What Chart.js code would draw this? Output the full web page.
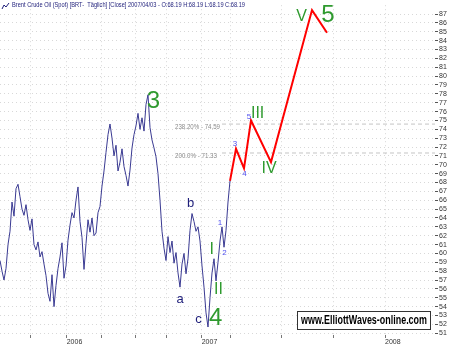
<!DOCTYPE html>
<html>
<head>
<meta charset="utf-8">
<script src="https://cdn.jsdelivr.net/npm/chart.js@4/dist/chart.umd.min.js"></script>
<style>
  html, body { margin: 0; padding: 0; background: #fff; }
</style>
</head>
<body>
<canvas id="chart" width="452" height="350"></canvas>
<script>
// Brent daily closes (one value per step of the x index)
const closes = [
  59.2, 58.0, 57.0, 58.3, 61.0, 62.5, 65.8, 64.2, 67.3, 67.8,
  66.4, 65.0, 64.3, 65.5, 63.8, 62.6, 63.9, 61.0, 60.4, 61.3,
  59.6, 60.2, 58.8, 57.5, 55.5, 54.6, 57.6, 54.0, 56.4, 58.3,
  59.6, 61.2, 57.2, 58.6, 61.5, 63.2, 64.6, 64.0, 66.0, 67.5,
  63.6, 61.8, 58.2, 61.1, 63.8, 62.4, 64.0, 62.0, 62.3, 64.6,
  65.3, 67.6, 69.3, 71.4, 73.4, 74.6, 73.0, 71.0, 72.2, 69.3,
  70.3, 71.8, 69.8, 68.8, 67.6, 69.4, 71.9, 73.4, 74.4, 75.8,
  74.0, 75.3, 73.8, 76.8, 77.9, 74.2, 72.8, 71.9, 70.9, 69.0,
  66.0, 62.5, 60.6, 59.2, 61.9, 60.1, 61.4, 58.9, 60.1, 57.8,
  56.2, 58.8, 60.0, 57.7, 59.4, 62.6, 64.5, 63.6, 62.5, 63.0,
  61.4, 58.6, 56.2, 53.3, 51.7, 55.0, 57.8, 59.4, 56.9, 59.0,
  61.4, 63.0, 60.7, 62.6, 65.8, 68.19
];

// projected wave path
const projX = [115, 118, 122, 125.5, 135.5, 156, 163.5];
const projY = [68.19, 71.8, 69.6, 75.0, 70.3, 87.45, 84.9];

// fibonacci extension levels
const fibLevels = [74.59, 71.33];
const fibNames = ["238.20%", "200.0%"];
const fibFrom = 111;

// axis ticks
const xTicks = [15.35, 33.35, 50.85, 67.5, 83.35, 100.85, 115, 140.85, 166.65, 192.5];
const yearTicks = [33.35, 100.85, 192.5];
const yearNames = ["2006", "2007", "2008"];
const yTicks = [];
for (let v = 51; v <= 87; v++) yTicks.push(v);

// wave count labels
const waveText = ["3", "4", "5", "I", "II", "III", "IV", "V", "a", "b", "c", "1", "2", "3", "4", "5"];
const waveX = [76.7, 107.8, 164, 105.8, 109.2, 128.8, 134.5, 150.8, 90, 95.3, 99.2, 110, 112.2, 117.5, 122.2, 124.5];
const waveY = [77.1, 52.7, 86.8, 60.4, 55.9, 75.8, 69.6, 86.7, 54.8, 65.6, 52.6, 63.5, 60.1, 72.4, 69.0, 75.4];
const waveKind = ["big", "big", "big", "mid", "mid", "mid", "mid", "mid", "abc", "abc", "abc", "sub", "sub", "sub", "sub", "sub"];

const title = "Brent Crude Oil (Spot) [BRT-  T\u00e4glich] [Close] 2007/04/03 - O:68.19 H:68.19 L:68.19 C:68.19";

const kindStyle = {
  big: { font: "24px 'Liberation Sans'", color: "#2f9a2f" },
  mid: { font: "16px 'Liberation Sans'", color: "#2f9a2f" },
  abc: { font: "13px 'Liberation Sans'", color: "#1e1e7a" },
  sub: { font: "8px 'Liberation Sans'", color: "#5050f0" }
};

// draw text squeezed to a given width
function fitText(ctx, text, x, y, w) {
  const m = ctx.measureText(text).width;
  ctx.save();
  ctx.translate(x, y);
  ctx.scale(w / m, 1);
  ctx.fillText(text, 0, 0);
  ctx.restore();
}

const overlay = {
  id: "overlay",
  afterDatasetsDraw(chart) {
    const ctx = chart.ctx;
    const xs = chart.scales.x, ys = chart.scales.y;
    ctx.save();

    // fib level captions
    ctx.font = "7px 'Liberation Sans'";
    ctx.fillStyle = "#8a8a8a";
    ctx.textBaseline = "middle";
    ctx.textAlign = "left";
    fibLevels.forEach((lv, i) => {
      const txt = fibNames[i] + " - " + lv.toFixed(2);
      fitText(ctx, txt, xs.getPixelForValue(fibFrom) - 47, ys.getPixelForValue(lv) + 3, i === 0 ? 45 : 42);
    });

    // wave labels
    ctx.textAlign = "center";
    waveText.forEach((t, i) => {
      const st = kindStyle[waveKind[i]];
      ctx.font = st.font;
      ctx.fillStyle = st.color;
      ctx.fillText(t, xs.getPixelForValue(waveX[i]), ys.getPixelForValue(waveY[i]));
    });

    // watermark box
    ctx.fillStyle = "#fff";
    ctx.fillRect(297, 311, 133, 18);
    ctx.strokeStyle = "#333";
    ctx.lineWidth = 1;
    ctx.strokeRect(297.5, 311.5, 133, 18);
    ctx.fillStyle = "#000";
    ctx.font = "bold 12px 'Liberation Sans'";
    ctx.textAlign = "left";
    fitText(ctx, "www.ElliottWaves-online.com", 301, 321, 126);

    // title + small icon
    ctx.strokeStyle = "#1e1e7a";
    ctx.beginPath();
    ctx.moveTo(2, 9); ctx.lineTo(4, 5); ctx.lineTo(6, 7); ctx.lineTo(9, 3);
    ctx.stroke();
    ctx.font = "8px 'Liberation Sans'";
    ctx.fillStyle = "#1e1e7a";
    fitText(ctx, title, 12, 5, 233);
    ctx.restore();
  }
};

new Chart(document.getElementById("chart"), {
  type: "line",
  data: {
    datasets: [
      {
        data: closes.map((v, i) => ({ x: i, y: v })),
        borderColor: "#3a3a92",
        borderWidth: 1,
        pointRadius: 0,
        tension: 0
      },
      {
        data: projX.map((x, i) => ({ x: x, y: projY[i] })),
        borderColor: "#ff0000",
        borderWidth: 2,
        pointRadius: 0,
        tension: 0
      },
      ...fibLevels.map(lv => ({
        data: [{ x: fibFrom, y: lv }, { x: 217.5, y: lv }],
        borderColor: "#c4c4c4",
        borderWidth: 1,
        borderDash: [4, 3],
        pointRadius: 0
      }))
    ]
  },
  options: {
    responsive: false,
    devicePixelRatio: 1,
    animation: false,
    layout: { padding: { left: 0, right: 0, top: 5, bottom: 0 } },
    plugins: {
      legend: { display: false },
      tooltip: { enabled: false }
    },
    scales: {
      x: {
        type: "linear",
        min: 0,
        max: 217.5,
        afterBuildTicks: s => { s.ticks = xTicks.map(v => ({ value: v })); },
        afterFit: s => { s.height = 15; },
        border: { display: false, dash: [1, 3] },
        grid: {
          color: "#d8d8d8",
          tickLength: 3,
          tickColor: "#777",
          tickBorderDash: []
        },
        ticks: {
          autoSkip: false,
          maxRotation: 0,
          align: "start",
          padding: 0,
          color: "#333",
          font: { family: "Liberation Sans", size: 7 },
          callback: v => {
            const k = yearTicks.indexOf(v);
            return k >= 0 ? yearNames[k] : "";
          }
        }
      },
      y: {
        position: "right",
        min: 50.8,
        max: 88,
        afterBuildTicks: s => { s.ticks = yTicks.map(v => ({ value: v })); },
        afterFit: s => { s.width = 17; },
        border: { display: false, dash: [1, 3] },
        grid: {
          color: "#d8d8d8",
          tickLength: 3,
          tickColor: "#555",
          tickBorderDash: []
        },
        ticks: {
          autoSkip: false,
          padding: 1,
          color: "#333",
          font: { family: "Liberation Sans", size: 7 }
        }
      }
    }
  },
  plugins: [overlay]
});
</script>
</body>
</html>
